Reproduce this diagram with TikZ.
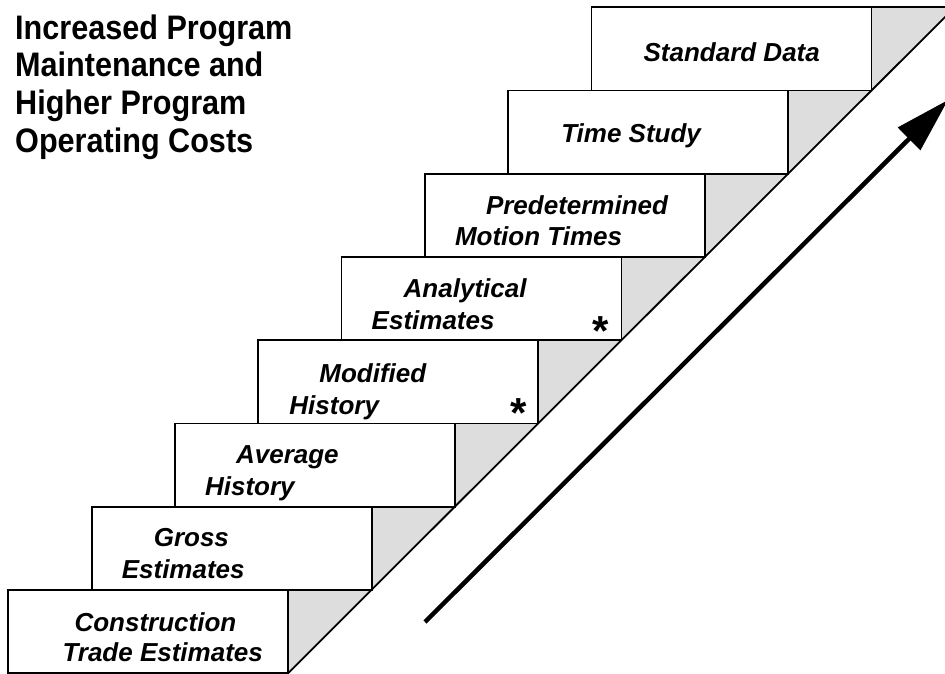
\documentclass[tikz,border=0pt]{standalone}
\usepackage{fontspec}
\setmainfont{Liberation Sans}
\newfontfamily\titlefont[FakeStretch=0.9]{Liberation Sans}
\usetikzlibrary{calc,arrows.meta}
\definecolor{stepgray}{HTML}{DDDDDD}
\pgfdeclarelayer{background}
\pgfdeclarelayer{canvas}
\pgfsetlayers{canvas,background,main}
\begin{document}
\begin{tikzpicture}[x=1pt,y=-1pt,
  stepbox/.style={draw=black, line width=1.8pt, fill=white, minimum width=280pt,
    minimum height=83.2pt, anchor=north west, inner sep=0pt, outer sep=0pt},
  lbl/.style={anchor=base west, inner sep=0pt, font=\fontsize{26}{30}\selectfont\bfseries\itshape},
  ttl/.style={anchor=base west, inner sep=0pt, font=\titlefont\fontsize{34}{38}\selectfont\bfseries},
  starmark/.style={anchor=north, inner sep=0pt, font=\fontsize{42}{42}\selectfont\bfseries},
  edge/.style={draw=black, line width=1.8pt}]
\clip (0,0) rectangle (945,674);
\begin{pgfonlayer}{canvas}
\fill[white] (0,0) rectangle (945,674);
\end{pgfonlayer}
% title
\node[ttl] (t1) at (15,40) {Increased Program};
\node[ttl] (t2) at (15,77) {Maintenance and};
\node[ttl] (t3) at (15,115) {Higher Program};
\node[ttl] (t4) at (15,153) {Operating Costs};
% step boxes
\foreach \k in {0,...,7}{
  \node[stepbox] (b\k) at ({8.3+83.3*\k},{589.8-83.2*\k}) {};
}
\begin{pgfonlayer}{background}
\foreach \k in {0,...,7}{
  \fill[stepgray] (b\k.north east) -- ($(b\k.north east)+(83.3,0)$) -- (b\k.south east) -- cycle;
}
\end{pgfonlayer}
% staircase diagonal and top edge
\coordinate (dtop) at ($(b7.north east)+(103.3,-20)$);
\draw[edge] (b0.south east) -- (dtop);
\draw[edge] (b7.north east) -- ++(90,0);
% labels
\node[lbl] (l0a) at ($(b0.north west)+(66,42)$) {Construction};
\node[lbl] (l0b) at ($(b0.north west)+(54,72)$) {Trade Estimates};
\node[lbl] (l1a) at ($(b1.north west)+(62,40)$) {Gross};
\node[lbl] (l1b) at ($(b1.north west)+(30,72)$) {Estimates};
\node[lbl] (l2a) at ($(b2.north west)+(61,40)$) {Average};
\node[lbl] (l2b) at ($(b2.north west)+(30,72)$) {History};
\node[lbl] (l3a) at ($(b3.north west)+(61,42)$) {Modified};
\node[lbl] (l3b) at ($(b3.north west)+(31,74)$) {History};
\node[starmark] (s3) at ($(b3.north west)+(260,58.5)$) {*};
\node[lbl] (l4a) at ($(b4.north west)+(62,40)$) {Analytical};
\node[lbl] (l4b) at ($(b4.north west)+(30,72)$) {Estimates};
\node[starmark] (s4) at ($(b4.north west)+(259,59.5)$) {*};
\node[lbl] (l5a) at ($(b5.north west)+(61,41)$) {Predetermined};
\node[lbl] (l5b) at ($(b5.north west)+(30,72)$) {Motion Times};
\node[lbl] (l6a) at ($(b6.north west)+(53,52)$) {Time Study};
\node[lbl] (l7a) at ($(b7.north west)+(52,54)$) {Standard Data};
% arrow
\coordinate (atail) at (425,622);
\coordinate (ahead) at (948,100);
\draw[line width=4.5pt, -{Triangle[length=55pt,width=31pt]}] (atail) -- (ahead);
\end{tikzpicture}
\end{document}
